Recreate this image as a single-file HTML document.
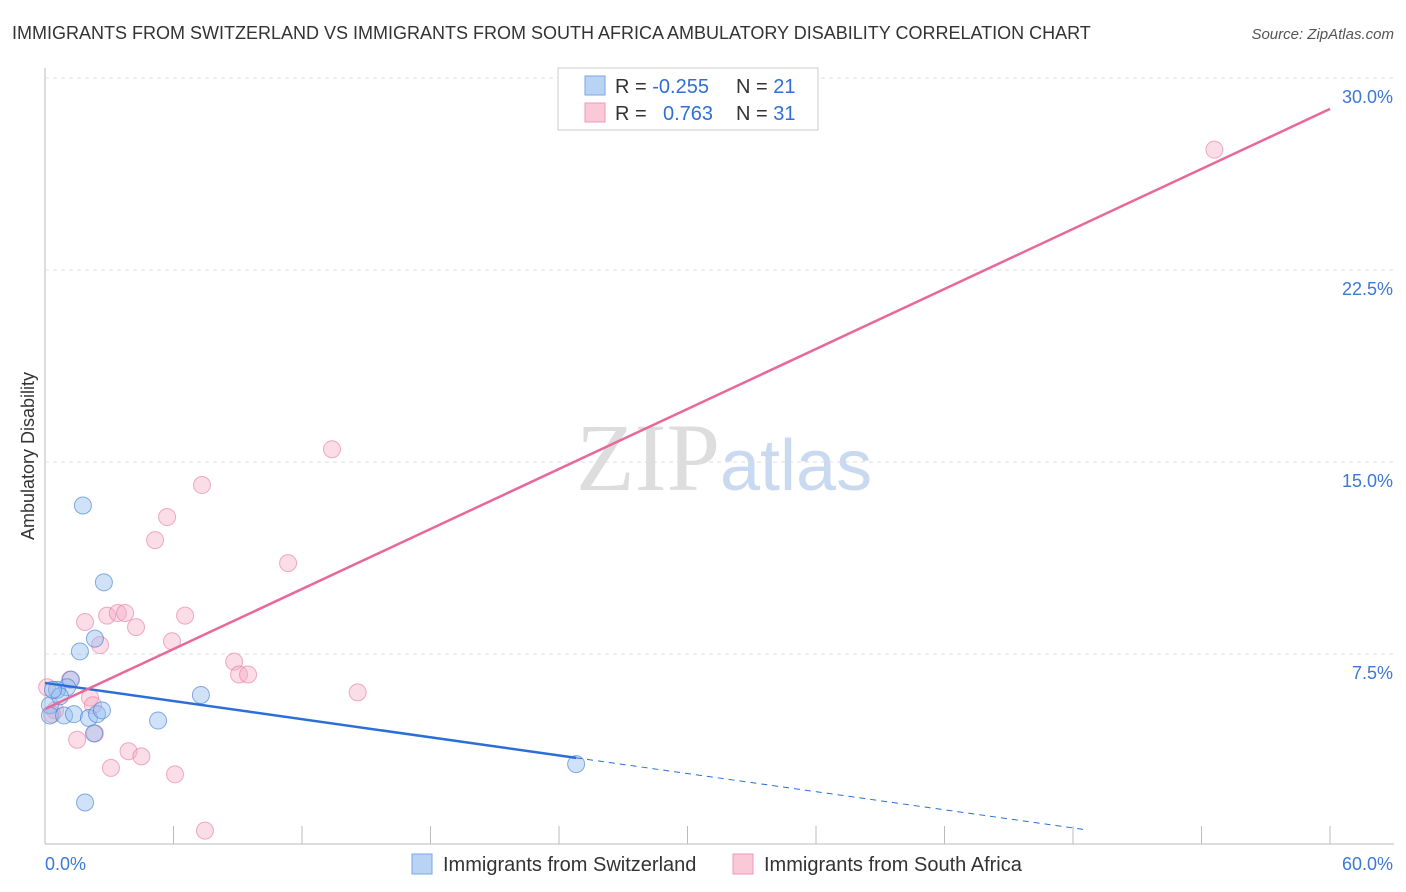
<!DOCTYPE html>
<html><head><meta charset="utf-8"><style>
body{margin:0;background:#fff;font-family:"Liberation Sans",sans-serif;}
#w{position:relative;width:1406px;height:892px;overflow:hidden;}
</style></head><body>
<div id="w">
<svg id="s" width="1406" height="892" xmlns="http://www.w3.org/2000/svg">
<text x="12" y="39" font-size="18" fill="#333">IMMIGRANTS FROM SWITZERLAND VS IMMIGRANTS FROM SOUTH AFRICA AMBULATORY DISABILITY CORRELATION CHART</text>
<text x="1394" y="39" font-size="15" fill="#555" font-style="italic" text-anchor="end">Source: ZipAtlas.com</text>
<text x="34" y="456" font-size="18" fill="#333" text-anchor="middle" transform="rotate(-90 34 456)">Ambulatory Disability</text>
<text x="720" y="490" font-size="96" fill="#ddd" text-anchor="end" font-family="Liberation Serif">ZIP</text>
<text x="720" y="490" font-size="72" fill="#c9daf0">atlas</text>
<g id="grid"></g><g id="marks"></g>
<rect x="558" y="68" width="260" height="62" fill="#fff" stroke="#ccc"/>
<rect x="585" y="76" width="20" height="19" fill="#b9d3f5" stroke="#7aa6e6"/>
<rect x="585" y="103" width="20" height="19" fill="#fac8d7" stroke="#ee9ab5"/>
<text x="615" y="93" font-size="20" fill="#333">R = <tspan fill="#2f6fd6">-0.255</tspan><tspan x="736">N = </tspan><tspan fill="#2f6fd6">21</tspan></text>
<text x="615" y="120" font-size="20" fill="#333">R = <tspan x="663" fill="#2f6fd6">0.763</tspan><tspan x="736">N = </tspan><tspan fill="#2f6fd6">31</tspan></text>
<rect x="412" y="854" width="20" height="20" fill="#b9d3f5" stroke="#7aa6e6"/>
<text x="443" y="871" font-size="20" fill="#333">Immigrants from Switzerland</text>
<rect x="733" y="854" width="20" height="20" fill="#fac8d7" stroke="#ee9ab5"/>
<text x="764" y="871" font-size="20" fill="#333">Immigrants from South Africa</text>
</svg>
</div>
<script>
const yTicks=[7.5,15,22.5,30];
const yTickLabels=["7.5%","15.0%","22.5%","30.0%"];
const xTicks=[0,6,12,18,24,30,36,42,48,54,60];
const swissX=[1.77,2.75,2.33,1.63,1.21,1.03,0.56,0.23,0.23,0.89,1.35,2.05,2.43,2.66,2.29,5.28,7.28,1.87,24.8,0.7,0.37];
const swissY=[13.3,10.3,8.1,7.6,6.5,6.2,6.1,5.5,5.1,5.1,5.15,5.0,5.15,5.3,4.4,4.9,5.9,1.7,3.2,5.85,6.1];
const saX=[54.6,13.4,7.33,5.7,5.14,11.35,2.9,3.4,3.74,6.54,1.87,4.25,2.57,5.93,8.83,9.06,9.48,1.17,14.6,2.1,0.1,0.47,2.24,1.5,3.9,4.5,3.08,6.07,7.47,2.33,0.33];
const saY=[27.2,15.5,14.1,12.85,11.95,11.05,9.0,9.1,9.1,9.0,8.75,8.55,7.85,8.0,7.2,6.7,6.7,6.5,6.0,5.8,6.2,5.3,5.5,4.15,3.7,3.5,3.05,2.8,0.6,4.4,5.15];
const swissFit=[6.37,-0.118]; // intercept, slope
const saFit=[5.35,0.3907];
const X=v=>45+v/60*1285, Y=v=>846-v/30*768;
const NS="http://www.w3.org/2000/svg";
function mk(p,t,a){const e=document.createElementNS(NS,t);for(const k in a)e.setAttribute(k,a[k]);p.appendChild(e);return e;}
const g=document.getElementById('grid'), m=document.getElementById('marks');
mk(g,'line',{x1:45,y1:68,x2:45,y2:844,stroke:'#bbb'});
mk(g,'line',{x1:45,y1:844,x2:1394,y2:844,stroke:'#bbb'});
yTicks.forEach((t,i)=>{
 const l=mk(g,'line',{x1:45,y1:Y(t),x2:1394,y2:Y(t),stroke:'#ddd','stroke-dasharray':'4 4'});
 
 
 const tx=mk(g,'text',{x:1393,y:Y(t)+25,'font-size':18,fill:'#3b78d8','text-anchor':'end'});
 tx.textContent=yTickLabels[i];
 
 
});
xTicks.forEach(t=>{
 const l=mk(g,'line',{x1:X(t),y1:826,x2:X(t),y2:844,stroke:'#bbb'});
 
 
});
const x0=mk(g,'text',{x:45,y:870,'font-size':18,fill:'#3b78d8'});x0.textContent='0.0%';


const x1=mk(g,'text',{x:1393,y:870,'font-size':18,fill:'#3b78d8','text-anchor':'end'});x1.textContent='60.0%';


saX.forEach((v,i)=>{
 const c=mk(m,'circle',{cx:X(v),cy:Y(saY[i]),r:8.5,fill:'rgba(246,170,195,0.4)',stroke:'rgba(230,120,160,0.6)'});
 
 
});
swissX.forEach((v,i)=>{
 const c=mk(m,'circle',{cx:X(v),cy:Y(swissY[i]),r:8.5,fill:'rgba(150,190,240,0.45)',stroke:'rgba(60,120,210,0.6)'});
 
 
});
const bEnd=24.8, bDash=48.6;
let l=mk(m,'line',{x1:X(0),y1:Y(swissFit[0]),x2:X(bEnd),y2:Y(swissFit[0]+swissFit[1]*bEnd),stroke:'#2a6fd8','stroke-width':2.5});


l=mk(m,'line',{x1:X(bEnd),y1:Y(swissFit[0]+swissFit[1]*bEnd),x2:X(bDash),y2:Y(swissFit[0]+swissFit[1]*bDash),stroke:'#2a6fd8','stroke-width':1,'stroke-dasharray':'6 5'});


l=mk(m,'line',{x1:X(0),y1:Y(saFit[0]),x2:X(60),y2:Y(saFit[0]+saFit[1]*60),stroke:'#e8689a','stroke-width':2.5});


</script>
</body></html>
